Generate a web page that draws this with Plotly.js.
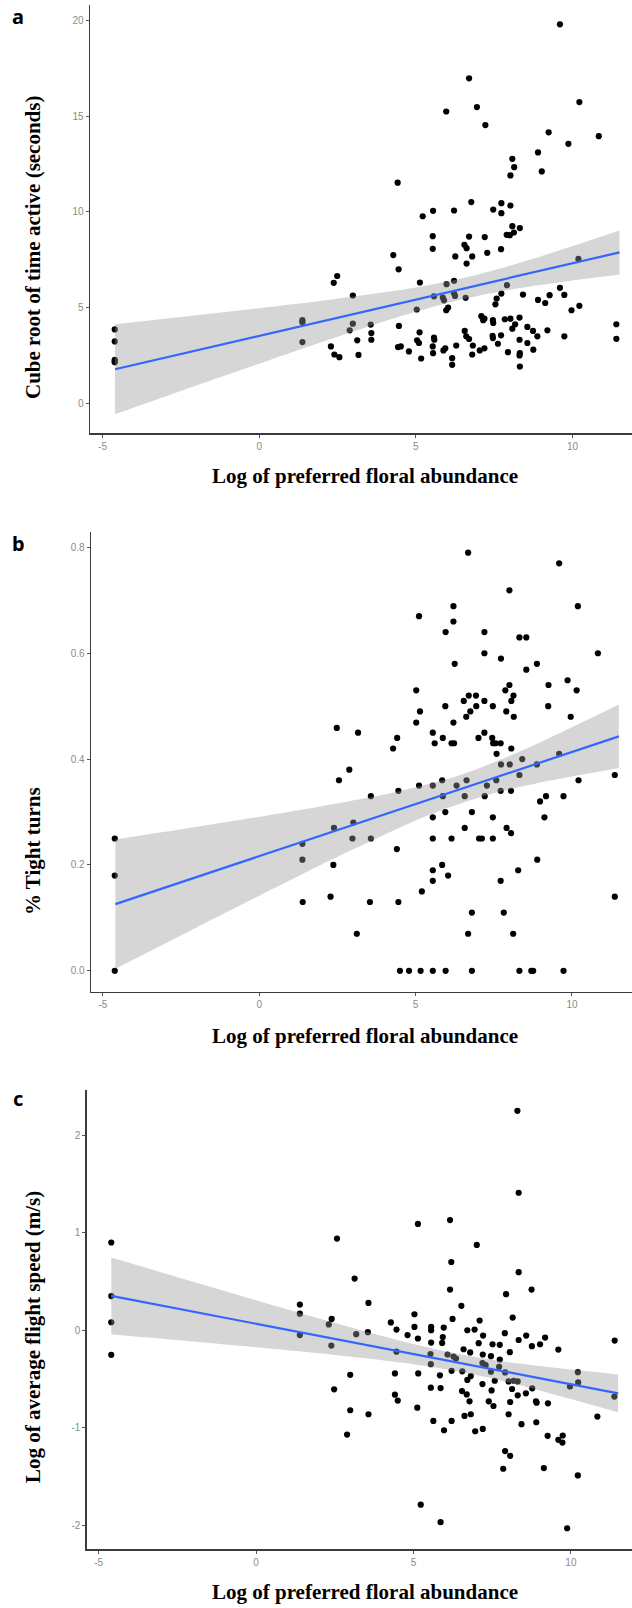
<!DOCTYPE html>
<html>
<head>
<meta charset="utf-8">
<script src="https://cdn.plot.ly/plotly-3.0.1.min.js"></script>
<style>
html,body{margin:0;padding:0;background:#fff;}
#chart{width:632px;height:1608px;}
</style>
</head>
<body>
<div id="chart"></div>
<script>
// ---------- Panel a: cube root of time active ----------
const aX = [9.60,6.70,5.97,6.95,10.22,7.22,9.24,10.84,9.87,8.90,8.08,8.14,9.02,8.02,4.42,6.77,7.73,8.02,5.55,6.22,
  7.47,7.73,5.22,8.08,8.32,5.54,6.70,7.20,7.90,8.00,8.13,6.55,6.62,5.54,7.72,7.28,4.28,6.26,6.80,6.62,
  10.19,4.45,2.49,
  2.38,5.13,6.22,5.98,6.22,6.25,5.58,5.86,5.90,6.59,5.97,6.03,5.03,7.91,7.73,7.58,7.54,8.42,8.90,9.13,
  9.27,9.60,9.74,9.97,10.22,2.99,1.38,1.38,1.38,-4.61,-4.61,-4.61,-4.61,-4.61,2.29,2.40,2.56,2.89,2.99,3.13,
  3.17,3.56,3.58,3.58,4.46,4.43,4.52,4.78,5.04,5.12,5.10,5.17,5.58,5.59,5.54,5.55,5.88,5.94,6.16,6.16,
  6.29,6.56,6.61,6.70,6.82,6.80,7.04,7.19,7.09,7.19,7.15,7.46,7.47,7.45,7.46,7.62,7.72,7.84,8.02,8.08,
  8.17,7.94,8.31,8.31,8.32,8.31,8.32,8.56,8.56,8.74,8.75,8.88,9.20,9.74,11.40,11.40];
const aY = [19.79,16.97,15.24,15.47,15.73,14.53,14.15,13.95,13.55,13.10,12.77,12.33,12.11,11.90,11.52,10.51,10.45,10.33,10.05,10.07,
  10.12,9.93,9.77,9.25,9.15,8.73,8.71,8.68,8.80,8.78,8.92,8.28,8.10,8.07,8.05,7.86,7.74,7.67,7.67,7.30,
  7.54,7.00,6.65,
  6.29,6.31,6.40,6.22,5.73,5.61,5.59,5.52,5.38,5.51,4.86,5.00,4.90,6.17,5.73,5.47,5.17,5.68,5.40,5.24,
  5.65,6.03,5.66,4.86,5.09,5.63,4.34,4.23,3.20,3.86,3.23,2.27,2.20,2.15,2.97,2.55,2.41,3.81,4.16,3.29,
  2.53,4.11,3.67,3.32,4.04,2.94,2.97,2.71,3.29,3.71,3.15,2.34,3.43,3.32,2.97,2.62,2.76,2.87,2.36,2.01,
  3.02,3.78,3.50,3.36,3.02,2.55,2.76,2.87,4.55,4.42,4.34,4.34,4.20,3.53,3.41,3.11,3.55,4.39,4.42,3.90,
  4.13,2.67,4.48,3.32,2.62,2.50,1.92,3.99,3.15,3.78,2.80,3.50,3.81,3.50,4.13,3.37];
const aFitX = [-4.6, 11.5];
const aFitY = [1.78, 7.88];
const bandX = [-4.6,-2,0,2,4,5,6,7,8,9,10,11.5];
const aBandLo = [-0.57,0.93,2.07,3.20,4.28,4.78,5.24,5.62,5.93,6.19,6.42,6.73];
const aBandHi = [4.13,4.60,4.97,5.36,5.80,6.05,6.36,6.73,7.18,7.68,8.21,9.03];
const aYTicks = [0,5,10,15,20];
const aYTickText = ["0","5","10","15","20"];

// ---------- Panel b: % tight turns ----------
const bX = [6.68,9.59,8.00,6.21,10.19,5.11,6.21,5.96,7.20,8.32,8.54,7.20,10.83,6.25,7.73,8.88,8.54,9.86,8.00,9.25,
  5.02,7.87,10.15,6.70,6.93,8.13,6.54,7.20,8.06,5.95,6.94,7.47,9.24,5.14,6.75,7.90,6.62,8.14,9.96,5.02,
  6.21,2.48,3.16,5.55,7.20,4.41,5.87,7.01,7.45,4.28,5.61,6.15,6.23,7.48,7.56,7.72,8.06,7.59,9.59,7.73,
  8.01,8.41,8.88,2.88,2.55,8.32,11.37,10.21,5.11,5.55,5.85,6.31,6.63,7.28,7.58,3.57,4.45,5.87,6.57,7.21,
  7.72,8.05,9.17,9.73,8.98,
  5.55,5.95,6.80,7.47,9.12,3.01,2.39,6.57,7.91,8.05,2.98,3.57,5.55,6.15,7.03,7.12,7.47,1.38,-4.62,4.40,
  1.38,8.89,2.37,5.85,5.55,8.28,-4.62,6.04,5.55,7.72,5.20,2.28,11.37,1.39,3.54,4.45,6.80,7.82,3.12,6.68,
  8.12,-4.62,4.50,4.79,5.16,5.55,5.96,6.80,8.32,8.70,8.76,9.73];
const bY = [0.79,0.77,0.719,0.689,0.689,0.67,0.66,0.64,0.64,0.63,0.63,0.60,0.60,0.58,0.59,0.58,0.569,0.549,0.54,0.54,
  0.53,0.53,0.53,0.52,0.52,0.52,0.51,0.51,0.51,0.50,0.50,0.50,0.50,0.49,0.49,0.49,0.48,0.48,0.48,0.469,
  0.469,0.459,0.45,0.45,0.45,0.44,0.44,0.44,0.44,0.42,0.43,0.43,0.43,0.43,0.43,0.43,0.42,0.41,0.41,0.39,
  0.39,0.40,0.39,0.38,0.36,0.37,0.37,0.36,0.35,0.35,0.36,0.35,0.36,0.35,0.36,0.33,0.34,0.33,0.33,0.33,
  0.34,0.34,0.33,0.33,0.32,
  0.29,0.30,0.30,0.29,0.29,0.28,0.27,0.27,0.27,0.26,0.25,0.25,0.25,0.25,0.25,0.25,0.25,0.24,0.25,0.23,
  0.21,0.21,0.20,0.20,0.19,0.19,0.18,0.18,0.17,0.17,0.15,0.14,0.14,0.13,0.13,0.13,0.11,0.11,0.07,0.07,
  0.07,0,0,0,0,0,0,0,0,0,0,0];
const bFitX = [-4.6, 11.5];
const bFitY = [0.126, 0.443];
const bBandLo = [0.004,0.082,0.142,0.201,0.257,0.284,0.307,0.327,0.343,0.356,0.367,0.383];
const bBandHi = [0.248,0.272,0.291,0.311,0.333,0.347,0.362,0.382,0.406,0.432,0.460,0.503];
const bYTicks = [0,0.2,0.4,0.6,0.8];
const bYTickText = ["0.0","0.2","0.4","0.6","0.8"];

// ---------- Panel c: log of average flight speed ----------
const cX = [8.30,8.34,5.14,6.16,-4.60,2.57,7.01,6.20,8.34,3.13,6.16,8.75,7.94,-4.60,1.39,3.57,6.52,1.39,5.03,2.40,
  8.15,6.24,7.10,-4.60,2.31,4.28,5.03,5.56,5.96,4.46,5.56,6.71,6.94,7.90,1.39,3.18,3.55,4.81,5.14,5.93,
  7.21,8.58,9.18,8.34,5.56,5.91,7.07,9.02,7.51,7.74,2.39,11.39,8.76,6.59,9.60,
  -4.60,4.46,5.54,6.08,6.27,6.35,5.55,6.80,7.20,7.46,8.06,7.74,7.19,7.29,7.72,7.46,7.91,6.21,6.55,5.15,
  4.41,2.99,5.84,6.82,6.71,7.58,8.02,8.18,8.31,10.22,10.23,9.97,7.19,5.55,5.86,2.48,7.48,8.13,8.77,6.54,
  6.69,8.31,8.57,11.38,4.41,4.50,6.78,7.39,8.07,8.89,8.91,9.27,7.54,5.12,2.99,3.57,6.62,6.82,8.02,10.84,
  5.63,6.21,8.90,8.43,5.97,6.96,7.20,2.89,9.26,9.74,9.60,9.73,7.91,8.07,7.85,9.14,10.22,5.23,5.86,9.88];
const cY = [2.25,1.41,1.09,1.13,0.90,0.94,0.875,0.70,0.595,0.53,0.417,0.417,0.37,0.35,0.263,0.28,0.25,0.17,0.164,0.116,
  0.13,0.116,0.10,0.082,0.06,0.08,0.034,0.034,0.027,0.007,0.0,0.0,0.007,-0.03,-0.05,-0.04,-0.02,-0.05,-0.085,-0.07,
  -0.055,-0.055,-0.075,-0.10,-0.127,-0.13,-0.133,-0.144,-0.144,-0.15,-0.157,-0.106,-0.164,-0.195,-0.198,
  -0.252,-0.22,-0.245,-0.249,-0.27,-0.29,-0.348,-0.228,-0.249,-0.266,-0.225,-0.30,-0.337,-0.358,-0.375,-0.426,-0.433,-0.416,-0.422,-0.443,
  -0.443,-0.457,-0.463,-0.47,-0.51,-0.518,-0.525,-0.518,-0.525,-0.43,-0.535,-0.576,-0.552,-0.589,-0.593,-0.606,-0.617,-0.603,-0.596,-0.624,
  -0.658,-0.668,-0.647,-0.681,-0.661,-0.722,-0.729,-0.729,-0.736,-0.729,-0.743,-0.75,-0.777,-0.794,-0.821,-0.862,-0.879,-0.862,-0.862,-0.886,
  -0.93,-0.93,-0.944,-0.964,-1.026,-1.036,-1.012,-1.07,-1.083,-1.08,-1.124,-1.152,-1.24,-1.288,-1.421,-1.414,-1.489,-1.789,-1.969,-2.031];
const cFitX = [-4.6, 11.5];
const cFitY = [0.352, -0.648];
const cBandLo = [-0.041,-0.116,-0.175,-0.237,-0.307,-0.348,-0.398,-0.460,-0.534,-0.617,-0.705,-0.842];
const cBandHi = [0.745,0.497,0.308,0.121,-0.058,-0.140,-0.215,-0.277,-0.327,-0.368,-0.404,-0.454];
const cYTicks = [-2,-1,0,1,2];
const cYTickText = ["-2","-1","0","1","2"];

const xTicks = [-5,0,5,10];
const xTickText = ["-5","0","5","10"];

const panelLetters = ["a","b","c"];
const xTitle = "Log of preferred floral abundance";
const yTitles = ["Cube root of time active (seconds)","% Tight turns","Log of average flight speed (m/s)"];

// ---------- layout helpers (pixel geometry) ----------
const W = 632, H = 1608;
const domX = (l, r) => [l / W, r / W];
const domY = (t, b) => [(H - b) / H, (H - t) / H];

const BAND_FILL = 'rgba(153,153,153,0.4)';
const LINE_COL = '#3366FF';

function panelTraces(xs, ys, fx, fy, blo, bhi, ax) {
  const xa = ax === 1 ? 'x' : 'x' + ax;
  const ya = ax === 1 ? 'y' : 'y' + ax;
  return [
    {type:'scatter', mode:'markers', x:xs, y:ys, xaxis:xa, yaxis:ya,
     marker:{color:'#000', size:6.2, line:{width:0}}, hoverinfo:'skip', cliponaxis:false},
    {type:'scatter', mode:'lines', x:bandX, y:bhi, xaxis:xa, yaxis:ya,
     line:{width:0, color:'rgba(0,0,0,0)', shape:'spline', smoothing:0.6}, hoverinfo:'skip'},
    {type:'scatter', mode:'lines', x:bandX, y:blo, xaxis:xa, yaxis:ya, fill:'tonexty', fillcolor:BAND_FILL,
     line:{width:0, color:'rgba(0,0,0,0)', shape:'spline', smoothing:0.6}, hoverinfo:'skip'},
    {type:'scatter', mode:'lines', x:fx, y:fy, xaxis:xa, yaxis:ya,
     line:{color:LINE_COL, width:2.2}, hoverinfo:'skip'}
  ];
}

const data = [].concat(
  panelTraces(aX, aY, aFitX, aFitY, aBandLo, aBandHi, 1),
  panelTraces(bX, bY, bFitX, bFitY, bBandLo, bBandHi, 2),
  panelTraces(cX, cY, cFitX, cFitY, cBandLo, cBandHi, 3)
);

const axisCommon = {
  showline:true, linecolor:'#3c3c3c', linewidth:1.4, mirror:false,
  ticks:'outside', ticklen:3, tickwidth:1, tickcolor:'#555',
  showgrid:false, zeroline:false, fixedrange:true,
  tickfont:{family:'Liberation Sans, Arial, sans-serif', size:10, color:'#8a8a8a'}
};

function xAx(dom, range, anchor) {
  return Object.assign({}, axisCommon, {domain:dom, range:range, anchor:anchor,
    tickmode:'array', tickvals:xTicks, ticktext:xTickText});
}
function yAx(dom, range, anchor, tv, tt) {
  return Object.assign({}, axisCommon, {domain:dom, range:range, anchor:anchor,
    tickmode:'array', tickvals:tv, ticktext:tt});
}

const titleFont = {family:'Liberation Serif, Times New Roman, serif', size:21, color:'#000'};
const letterFont = {family:'Noto Sans, Liberation Sans, sans-serif', size:20, color:'#000'};

function ann(text, xpx, ypx, font, angle) {
  return {text:text, xref:'paper', yref:'paper', x:xpx / W, y:(H - ypx) / H,
    xanchor:'center', yanchor:'middle', showarrow:false, font:font, textangle:angle || 0};
}

const layout = {
  width:W, height:H, margin:{l:0, r:0, t:0, b:0},
  paper_bgcolor:'#fff', plot_bgcolor:'#fff', showlegend:false,
  xaxis:  xAx(domX(90, 632),   [-5.40, 11.90], 'y'),
  yaxis:  yAx(domY(5, 433.3),  [-1.565, 20.8], 'x', aYTicks, aYTickText),
  xaxis2: xAx(domX(91, 632),   [-5.38, 11.92], 'y2'),
  yaxis2: yAx(domY(531.8, 991.7), [-0.0395, 0.8295], 'x2', bYTicks, bYTickText),
  xaxis3: xAx(domX(86.7, 632), [-5.38, 11.94], 'y3'),
  yaxis3: yAx(domY(1090, 1549.3), [-2.247, 2.464], 'x3', cYTicks, cYTickText),
  annotations: [
    ann('<b>' + panelLetters[0] + '</b>', 18, 17, letterFont),
    ann('<b>' + panelLetters[1] + '</b>', 18, 543, letterFont),
    ann('<b>' + panelLetters[2] + '</b>', 18, 1099, letterFont),
    ann('<b>' + xTitle + '</b>', 365, 476, titleFont),
    ann('<b>' + xTitle + '</b>', 365, 1036, titleFont),
    ann('<b>' + xTitle + '</b>', 365, 1592, titleFont),
    ann('<b>' + yTitles[0] + '</b>', 33, 248, titleFont, -90),
    ann('<b>' + yTitles[1] + '</b>', 33, 851, titleFont, -90),
    ann('<b>' + yTitles[2] + '</b>', 33, 1337, titleFont, -90)
  ]
};

Plotly.newPlot('chart', data, layout, {staticPlot:true, displayModeBar:false});
</script>
</body>
</html>
